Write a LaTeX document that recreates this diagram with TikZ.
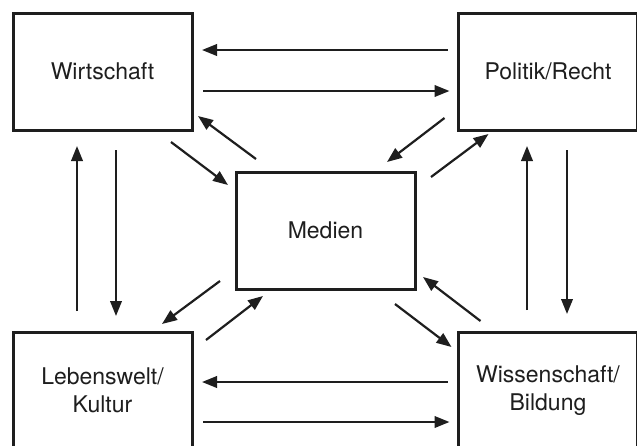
\documentclass[tikz,border=0pt]{standalone}
\usepackage{fontspec}
\setmainfont{TeX Gyre Heros}
\usetikzlibrary{arrows.meta}
\definecolor{ink}{HTML}{1E1E1E}

\begin{document}
\begin{tikzpicture}[x=1pt,y=-1pt,
  box/.style={draw=ink,line width=3pt,text=ink,minimum width=179pt,minimum height=117pt,
    align=center,inner sep=0pt,outer sep=0pt,font=\fontsize{23}{28}\selectfont},
  arr/.style={draw=ink,line width=2.2pt,-{Triangle[length=15pt,width=11.5pt]}}]
\useasboundingbox (0,0) rectangle (637,445);
\clip (0,0) rectangle (637,445);
\fill[white] (0,0) rectangle (637,445);

\node[box] (wirt) at (102.5,71.5) {Wirtschaft};
\node[box] (pol) at (548,71.5) {Politik/Recht};
\node[box] (med) at (325.5,230.5) {Medien};
\node[box] (leb) at (102.5,390.5) {Lebenswelt/\\Kultur};
\node[box] (wiss) at (548,390.5) {Wissenschaft/\\Bildung};

% horizontal
\draw[arr,shorten <=11pt,shorten >=10pt] ([yshift=21.5pt]pol.west) -- ([yshift=21.5pt]wirt.east);
\draw[arr,shorten <=11pt,shorten >=9pt] ([yshift=-19.5pt]wirt.east) -- ([yshift=-19.5pt]pol.west);
\draw[arr,shorten <=11pt,shorten >=10pt] ([yshift=8.5pt]wiss.west) -- ([yshift=8.5pt]leb.east);
\draw[arr,shorten <=11pt,shorten >=9pt] ([yshift=-31.5pt]leb.east) -- ([yshift=-31.5pt]wiss.west);

% vertical
\draw[arr,shorten <=21pt,shorten >=16pt] ([xshift=-25.5pt]leb.north) -- ([xshift=-25.5pt]wirt.south);
\draw[arr,shorten <=20pt,shorten >=16pt] ([xshift=13.5pt]wirt.south) -- ([xshift=13.5pt]leb.north);
\draw[arr,shorten <=22pt,shorten >=16pt] ([xshift=-21pt]wiss.north) -- ([xshift=-21pt]pol.south);
\draw[arr,shorten <=20pt,shorten >=18pt] ([xshift=19pt]pol.south) -- ([xshift=19pt]wiss.north);

% diagonal
\draw[arr] ([xshift=-21pt,yshift=-12pt]wirt.south east) -- ([xshift=-8pt,yshift=-13pt]med.north west);
\draw[arr] ([xshift=20pt,yshift=13pt]med.north west) -- ([xshift=6pt,yshift=14pt]wirt.south east);
\draw[arr] ([xshift=-14pt,yshift=12pt]pol.south west) -- ([xshift=-28pt,yshift=10pt]med.north east);
\draw[arr] ([xshift=16pt,yshift=-5pt]med.north east) -- ([xshift=30pt,yshift=-4pt]pol.south west);
\draw[arr] ([xshift=-16pt,yshift=8pt]med.south west) -- ([xshift=-30pt,yshift=8pt]leb.north east);
\draw[arr] ([xshift=14pt,yshift=-8pt]leb.north east) -- ([xshift=27pt,yshift=-7pt]med.south west);
\draw[arr] ([xshift=-20pt,yshift=-15pt]med.south east) -- ([xshift=-7pt,yshift=-15pt]wiss.north west);
\draw[arr] ([xshift=22pt,yshift=11pt]wiss.north west) -- ([xshift=8pt,yshift=12pt]med.south east);

\end{tikzpicture}
\end{document}
